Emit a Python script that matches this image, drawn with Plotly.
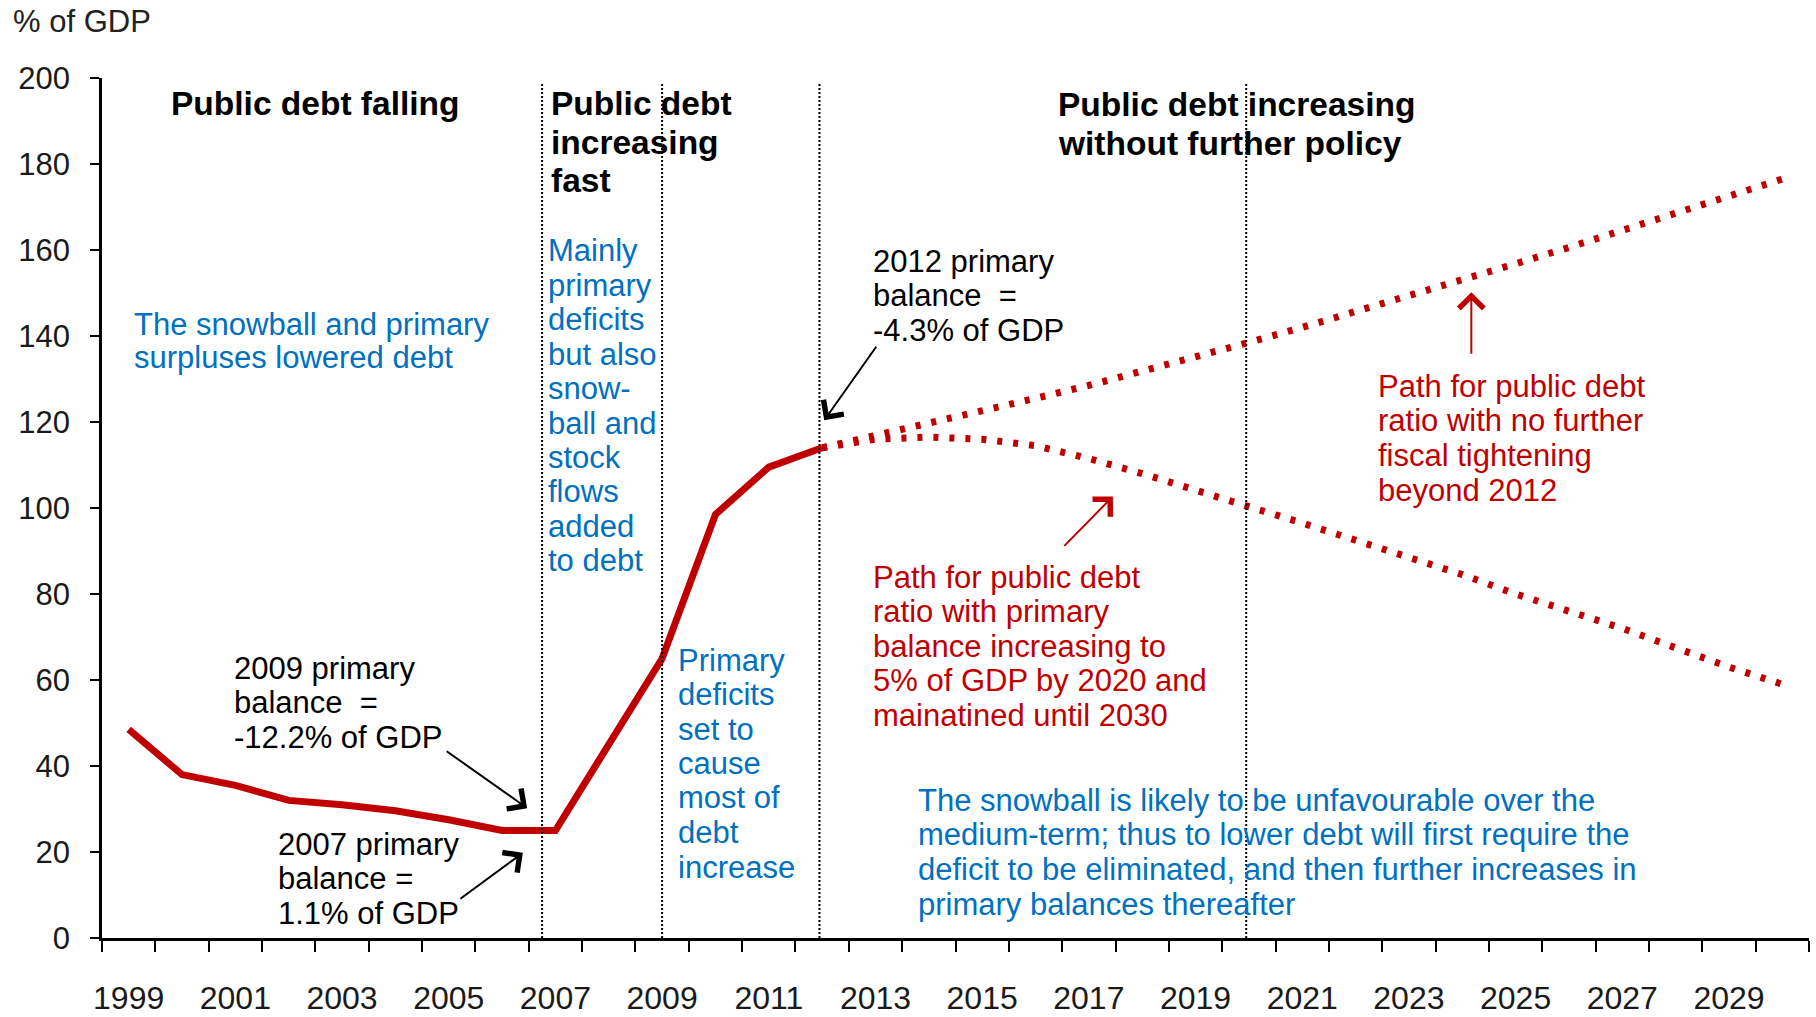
import plotly.graph_objects as go

# ---------------- data ----------------
years_hist = list(range(1999, 2013))
debt_hist = [48.5, 38.0, 35.5, 32.0, 31.0, 29.6, 27.5, 25.0, 25.0, 45.0, 65.0, 98.5, 109.5, 114.0]

years_proj = list(range(2012, 2031))
debt_no_policy = [114.0, 116.8, 119.6, 122.5, 125.5, 128.5, 131.7, 135.0, 138.5, 142.0,
                  145.6, 149.3, 153.0, 156.8, 160.6, 164.5, 168.4, 172.4, 176.5]
debt_consolidation = [114.0, 116.0, 116.5, 116.0, 114.5, 111.5, 108.0, 104.0, 100.3, 96.5,
                      92.5, 88.5, 84.5, 80.0, 76.0, 72.0, 67.5, 63.0, 59.0]

all_years = list(range(1999, 2031))
label_years = list(range(1999, 2031, 2))
y_ticks = list(range(0, 201, 20))
phase_boundaries = [2006.75, 2009.0, 2011.95, 2019.95]

RED = "#C00000"
BLUE = "#0070C0"
FONT = "Liberation Sans, Arial, sans-serif"

W, H = 1816, 1017
L, R, T, B = 102, 7, 78, 79
PW, PH = W - L - R, H - T - B


def to_paper(xp, yp):
    return (xp - L) / PW, (H - B - yp) / PH


fig = go.Figure()

fig.add_trace(go.Scatter(x=years_hist, y=debt_hist, mode="lines",
                         line=dict(color=RED, width=7), showlegend=False))
fig.add_trace(go.Scatter(x=years_proj, y=debt_no_policy, mode="lines",
                         line=dict(color=RED, width=7, dash="5px,11px"), showlegend=False))
fig.add_trace(go.Scatter(x=years_proj, y=debt_consolidation, mode="lines",
                         line=dict(color=RED, width=7, dash="5px,11px"), showlegend=False))

for xb in phase_boundaries:
    fig.add_shape(type="line", xref="x", yref="y", x0=xb, x1=xb, y0=0, y1=199,
                  line=dict(color="black", width=2, dash="2px,2px"))

annotations = []


def add_block(lines, xp, yp, spacing, size, color, bold=False):
    for i, line in enumerate(lines):
        xx, yy = to_paper(xp, yp + i * spacing)
        txt = f"<b>{line}</b>" if bold else line
        annotations.append(dict(text=txt, x=xx, y=yy, xref="paper", yref="paper",
                                xanchor="left", yanchor="middle", showarrow=False,
                                font=dict(family=FONT, size=size, color=color)))


BODY = 31
HEAD = 33.5
add_block(["% of GDP"], 11, 21, 0, BODY, "#222222")
add_block(["Public debt falling"], 169, 104, 0, HEAD, "black", bold=True)
add_block(["Public debt", "increasing", "fast"], 549, 104, 38.3, HEAD, "black", bold=True)
add_block(["Public debt increasing", "without further policy"], 1056, 105, 38.5, HEAD, "black", bold=True)

add_block(["The snowball and primary", "surpluses lowered debt"], 132, 324, 33, BODY, BLUE)
add_block(["Mainly", "primary", "deficits", "but also", "snow-", "ball and", "stock",
           "flows", "added", "to debt"], 546, 251, 34.4, BODY, BLUE)
add_block(["Primary", "deficits", "set to", "cause", "most of", "debt", "increase"],
          676, 660, 34.5, BODY, BLUE)
add_block(["The snowball is likely to be unfavourable over the",
           "medium-term; thus to lower debt will first require the",
           "deficit to be eliminated, and then further increases in",
           "primary balances thereafter"], 916, 800, 34.7, BODY, BLUE)

add_block(["2012 primary", "balance  =", "-4.3% of GDP"], 871, 261, 34.7, BODY, "black")
add_block(["2009 primary", "balance  =", "-12.2% of GDP"], 232, 668, 34.7, BODY, "black")
add_block(["2007 primary", "balance =", "1.1% of GDP"], 276, 844, 34.7, BODY, "black")

add_block(["Path for public debt", "ratio with no further", "fiscal tightening", "beyond 2012"],
          1376, 386, 34.7, BODY, RED)
add_block(["Path for public debt", "ratio with primary", "balance increasing to",
           "5% of GDP by 2020 and", "mainatined until 2030"], 871, 577, 34.5, BODY, RED)


def add_arrow(x, y, ax, ay, color):
    annotations.append(dict(text="", x=x, y=y, xref="x", yref="y", ax=ax, ay=ay,
                            axref="pixel", ayref="pixel", showarrow=True,
                            arrowhead=4, arrowsize=2.4, arrowwidth=2, arrowcolor=color))


add_arrow(2012.04, 120.4, 53, -75, "black")
add_arrow(2006.47, 30.2, -82, -58, "black")
add_arrow(2006.39, 19.8, -64, 47, "black")
add_arrow(2024.17, 150.2, 0, 63, RED)
add_arrow(2017.45, 102.7, -50, 51, RED)

fig.update_layout(
    width=W, height=H,
    margin=dict(l=L, r=R, t=T, b=B, pad=0),
    paper_bgcolor="white", plot_bgcolor="white",
    font=dict(family=FONT, size=BODY, color="black"),
    annotations=annotations,
    showlegend=False,
)

fig.update_xaxes(
    range=[1998.5, 2030.5], tickmode="array", tickvals=label_years,
    ticktext=[str(y) for y in label_years], ticks="", showgrid=False, zeroline=False,
    showline=True, linecolor="black", linewidth=3, automargin=False,
    tickfont=dict(family=FONT, size=32, color="#1a1a1a"), ticklabelstandoff=30,
    minor=dict(tickmode="array", tickvals=[y - 0.5 for y in all_years] + [all_years[-1] + 0.5],
               ticks="outside", ticklen=11, tickwidth=2, tickcolor="black", showgrid=False),
)
fig.update_yaxes(
    range=[0, 200], tickmode="array", tickvals=y_ticks, ticks="outside", ticklen=9,
    tickwidth=2, tickcolor="black", showgrid=False, zeroline=False, automargin=False,
    showline=True, linecolor="black", linewidth=2.5,
    tickfont=dict(family=FONT, size=31, color="#1a1a1a"), ticklabelstandoff=14,
)

fig.write_html("out.html")
